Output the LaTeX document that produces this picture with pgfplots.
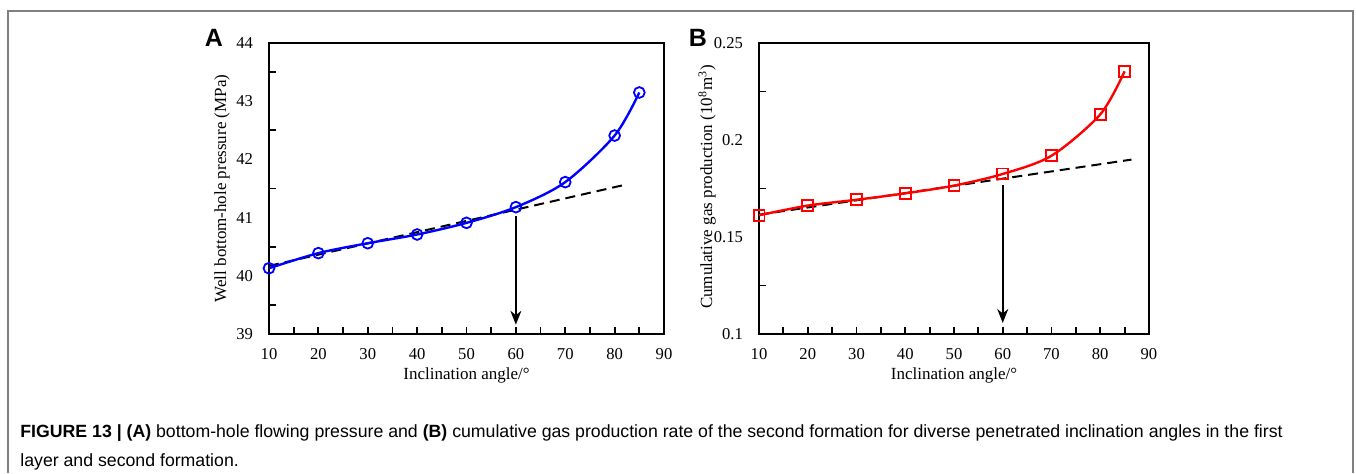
\documentclass[border=0pt]{standalone}
\usepackage{fontspec}
\setmainfont{Liberation Serif}
\newfontfamily\capfont{Liberation Sans}
\usepackage{pgfplots}
\pgfplotsset{compat=1.18}
\usetikzlibrary{arrows.meta}

\newcommand\tickfont{\fontsize{8.3}{10}\selectfont}
\newcommand\labfont{\fontsize{8.5}{10}\selectfont}

% one pixel of the reference = 0.5pt
\pgfplotsset{
  panel/.style={
    scale only axis,
    height=145.5pt,
    xmin=10, xmax=90,
    xtick={10,20,...,90},
    minor xtick={15,20,...,85},
    tick align=inside,
    xtick pos=bottom, ytick pos=left,
    major tick length=0pt,
    minor tick length=3.5pt,
    axis line style={line width=1pt},
    every tick/.style={black, line width=0.9pt},
    /pgf/number format/assume math mode=true,
    every tick label/.append style={font=\tickfont},
    yticklabel style={font=\tickfont, xshift=-4.5pt},
    xticklabel style={font=\tickfont, yshift=-3.5pt},
    every axis x label/.style={at={(axis description cs:0.5,-0.144)}, anchor=center, font=\labfont},
    clip=false,
  },
  dashfit/.style={black, line width=1pt, dash pattern=on 5pt off 3pt, no marks},
}
\tikzset{drop/.style={black, line width=0.8pt, -{Stealth[length=7pt,width=5.5pt]}}}

\begin{document}
\begin{tikzpicture}
\useasboundingbox (0,0) rectangle (678pt,-236.5pt);
\draw[line width=0.6pt, black!50] (4pt,-236.5pt) -- (4pt,-5.5pt) -- (676.5pt,-5.5pt) -- (676.5pt,-236.5pt);

\begin{axis}[panel,
  at={(134.5pt,-167pt)}, anchor=south west,
  width=197.5pt,
  ymin=39, ymax=44,
  ytick={39,...,44},
  minor ytick={39.5,40.5,...,43.5},
  xlabel={Inclination angle/\textdegree},
  ylabel={Well bottom-hole pressure (MPa)},
  every axis y label/.style={at={(axis description cs:-0.119,0.5)}, anchor=center, rotate=90, font=\labfont},
]
\addplot[dashfit] coordinates {(10,40.17) (82.4,41.57)};
\addplot[blue, line width=1.2pt, smooth, mark=o, mark size=2.7pt,
  mark options={line width=0.9pt, solid}] coordinates {
  (10,40.13) (20,40.39) (30,40.56) (40,40.71) (50,40.91)
  (60,41.18) (70,41.61) (80,42.41) (85,43.15)};
\draw[drop] (axis cs:60,41.02) -- (axis cs:60,39.16);
\end{axis}

\begin{axis}[panel,
  at={(379.5pt,-167pt)}, anchor=south west,
  width=195pt,
  ymin=0.1, ymax=0.25,
  ytick={0.1,0.15,0.2,0.25},
  yticklabels={0.1,0.15,0.2,0.25},
  minor ytick={0.125,0.175,0.225},
  xlabel={Inclination angle/\textdegree},
  ylabel={Cumulative gas production (10\textsuperscript{8}m\textsuperscript{3})},
  every axis y label/.style={at={(axis description cs:-0.133,0.505)}, anchor=center, rotate=90, font=\labfont},
]
\addplot[dashfit] coordinates {(10,0.1615) (86.4,0.1899)};
\addplot[red, line width=1.2pt, smooth, mark=square, mark size=2.7pt,
  mark options={line width=0.9pt, solid}] coordinates {
  (10,0.1612) (20,0.1662) (30,0.1692) (40,0.1725) (50,0.1765)
  (60,0.1825) (70,0.1919) (80,0.2132) (85,0.2354)};
\draw[drop] (axis cs:60,0.177) -- (axis cs:60,0.1057);
\end{axis}

\node[font=\capfont\bfseries\fontsize{12.5}{14}\selectfont, inner sep=0pt] at (107pt,-19pt) {A};
\node[font=\capfont\bfseries\fontsize{12.5}{14}\selectfont, inner sep=0pt] at (349pt,-19pt) {B};

\node[font=\capfont\fontsize{8.85}{10}\selectfont, anchor=base west, inner sep=0pt] at (10pt,-218.5pt)
  {\textbf{FIGURE 13 | (A)} bottom-hole flowing pressure and \textbf{(B)} cumulative gas production rate of the second formation for diverse penetrated inclination angles in the first};
\node[font=\capfont\fontsize{8.85}{10}\selectfont, anchor=base west, inner sep=0pt] at (10pt,-233pt)
  {layer and second formation.};
\end{tikzpicture}
\end{document}
